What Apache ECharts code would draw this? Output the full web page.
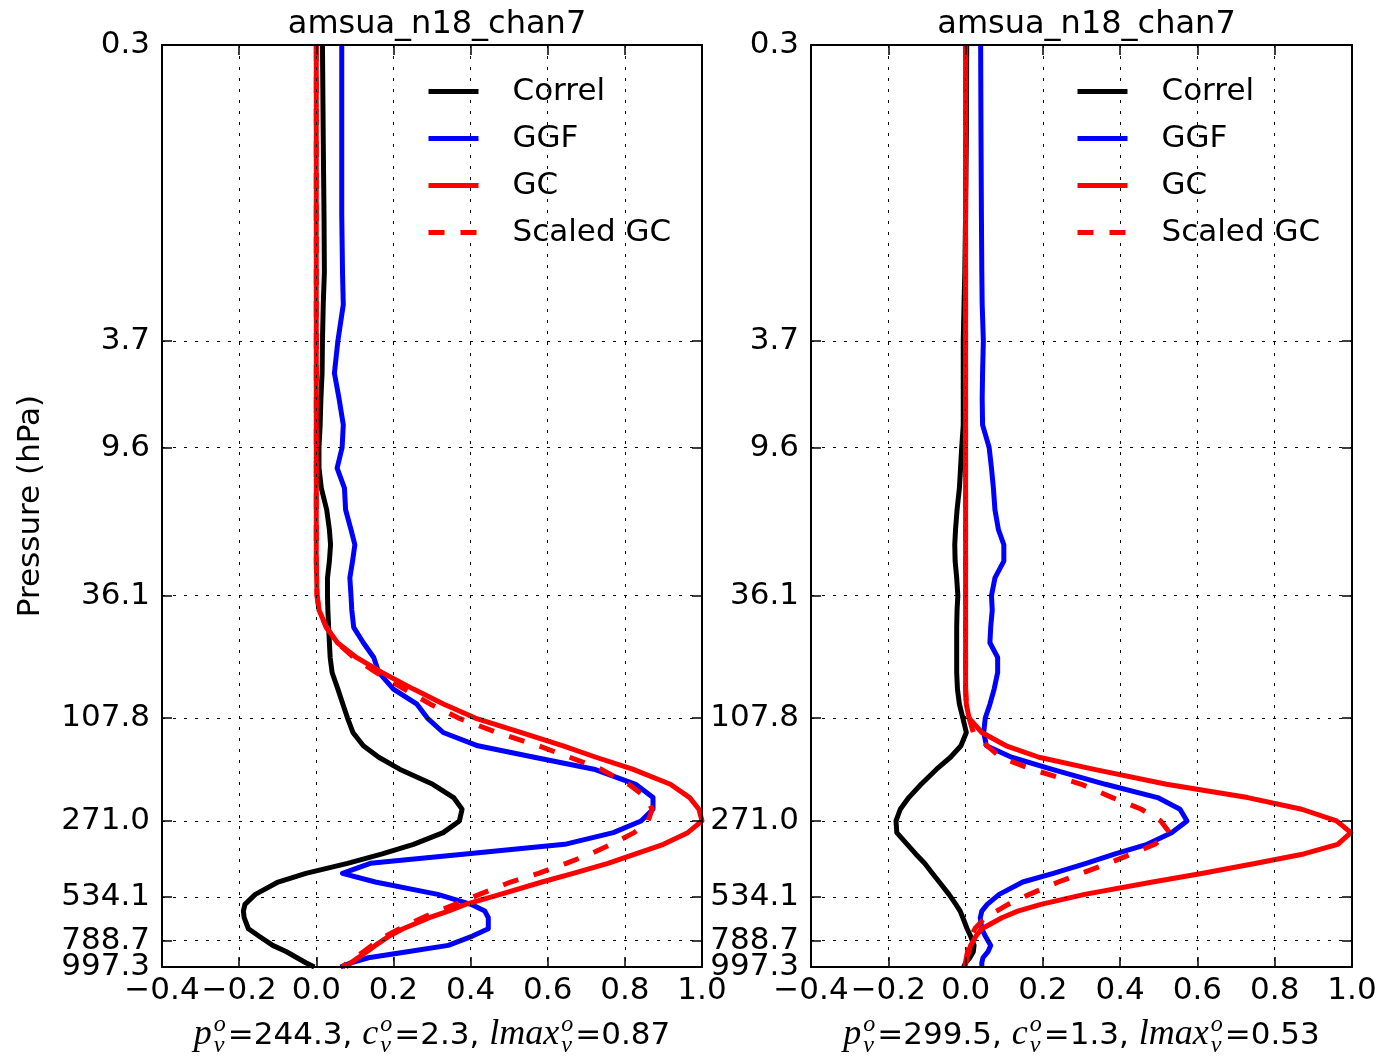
<!DOCTYPE html>
<html><head><meta charset="utf-8">
<script src="https://cdn.jsdelivr.net/npm/echarts@6/dist/echarts.min.js"></script>
<style>html,body{margin:0;padding:0;background:#fff}#c{width:1381px;height:1057px}</style>
</head><body><div id="c"></div>
<script>
// ---------- data ----------
const levels = [0.263, 0.6, 1.2, 2.0, 2.68, 3.7, 4.94, 6.2, 7.84, 9.6, 11.54, 13.8, 16.75, 20.0, 22.9, 26.5, 30.8,
  36.1, 41, 47.9, 55, 62.7, 71.7, 83.2, 95.2, 107.8, 122.6, 138.1, 153, 170.2, 194.8, 219.4, 243.5, 270.3, 300.1,
  333.1, 363, 394.8, 431.7, 466.6, 521.1, 569.8, 605, 642, 708.6, 756.4, 822.2, 870, 918.3, 960, 997.3];

const correl1 = [0.016, 0.018, 0.020, 0.021, 0.018, 0.016, 0.015, 0.012, 0.010, 0.007, 0.007, 0.013, 0.027, 0.034, 0.037, 0.034, 0.029,
  0.029, 0.030, 0.032, 0.034, 0.036, 0.041, 0.056, 0.069, 0.081, 0.095, 0.122, 0.162, 0.216, 0.302, 0.356, 0.378, 0.371, 0.329,
  0.252, 0.171, 0.081, -0.027, -0.099, -0.158, -0.185, -0.189, -0.187, -0.176, -0.149, -0.113, -0.077, -0.050, -0.027, -0.005];
const ggf1 = [0.066, 0.066, 0.066, 0.068, 0.070, 0.056, 0.047, 0.059, 0.070, 0.067, 0.054, 0.073, 0.076, 0.090, 0.100, 0.094, 0.087,
  0.090, 0.092, 0.097, 0.122, 0.149, 0.162, 0.200, 0.261, 0.288, 0.329, 0.419, 0.565, 0.720, 0.828, 0.873, 0.873, 0.842, 0.770,
  0.644, 0.387, 0.140, 0.068, 0.153, 0.315, 0.401, 0.437, 0.446, 0.446, 0.405, 0.342, 0.236, 0.135, 0.090, 0.063];
const gc1 = [0, 0, 0, 0, 0, 0, 0, 0, 0, 0, 0, 0, 0, 0, 0, 0, 0.001,
  0.002, 0.007, 0.026, 0.055, 0.104, 0.170, 0.252, 0.331, 0.412, 0.530, 0.640, 0.725, 0.820, 0.918, 0.968, 0.992, 1.000, 0.963,
  0.900, 0.828, 0.756, 0.666, 0.585, 0.477, 0.387, 0.342, 0.293, 0.225, 0.189, 0.153, 0.131, 0.108, 0.090, 0.077];
const scaledGc1 = [0, 0, 0, 0, 0, 0, 0, 0, 0, 0, 0, 0, 0, 0, 0, 0, 0.001,
  0.002, 0.007, 0.026, 0.054, 0.097, 0.155, 0.228, 0.296, 0.369, 0.468, 0.576, 0.657, 0.738, 0.810, 0.855, 0.871, 0.860, 0.824,
  0.765, 0.711, 0.648, 0.576, 0.504, 0.423, 0.360, 0.315, 0.275, 0.216, 0.180, 0.144, 0.122, 0.099, 0.081, 0.068];

const correl2 = [0.003, 0.002, 0.000, -0.002, -0.004, -0.006, -0.006, -0.006, -0.006, -0.010, -0.013, -0.016, -0.022, -0.026, -0.028, -0.027, -0.023,
  -0.020, -0.022, -0.023, -0.023, -0.023, -0.023, -0.021, -0.016, -0.007, 0.002, -0.012, -0.039, -0.075, -0.115, -0.147, -0.169, -0.180, -0.178,
  -0.151, -0.129, -0.106, -0.086, -0.068, -0.043, -0.025, -0.014, -0.007, 0.004, 0.013, 0.022, 0.020, 0.011, 0.000, -0.005];
const ggf2 = [0.039, 0.040, 0.041, 0.042, 0.043, 0.046, 0.044, 0.043, 0.044, 0.061, 0.067, 0.072, 0.076, 0.085, 0.099, 0.099, 0.076,
  0.067, 0.069, 0.065, 0.063, 0.083, 0.083, 0.074, 0.063, 0.051, 0.047, 0.054, 0.119, 0.222, 0.362, 0.497, 0.555, 0.573, 0.533,
  0.470, 0.387, 0.312, 0.227, 0.148, 0.087, 0.056, 0.042, 0.038, 0.042, 0.051, 0.065, 0.058, 0.045, 0.042, 0.042];
const gc2 = [0, 0, 0, 0, 0, 0, 0, 0, 0, 0, 0, 0, 0, 0, 0, 0, 0,
  0, 0, 0, 0, 0, 0, 0, 0.002, 0.009, 0.042, 0.105, 0.190, 0.330, 0.520, 0.730, 0.870, 0.960, 0.997,
  0.963, 0.875, 0.752, 0.614, 0.484, 0.308, 0.195, 0.135, 0.094, 0.042, 0.027, 0.013, 0.008, 0.004, 0.001, -0.002];
const scaledGc2 = [0, 0, 0, 0, 0, 0, 0, 0, 0, 0, 0, 0, 0, 0, 0, 0, 0,
  0, 0, 0, 0, 0, 0, 0, 0.002, 0.009, 0.020, 0.056, 0.090, 0.170, 0.300, 0.380, 0.455, 0.505, 0.528,
  0.490, 0.430, 0.370, 0.300, 0.240, 0.165, 0.110, 0.080, 0.050, 0.024, 0.015, 0.008, 0.005, 0.002, 0.000, -0.002];

const seriesNames = ['Correl', 'GGF', 'GC', 'Scaled GC'];
const panelTitles = ['amsua_n18_chan7', 'amsua_n18_chan7'];
const yTicks = [0.263, 3.7, 9.6, 36.1, 107.8, 271.0, 534.1, 788.7, 997.3];
const xMin = -0.4, xMax = 1.0, xStep = 0.2;
const captions = [
  {p: '244.3', c: '2.3', l: '0.87'},
  {p: '299.5', c: '1.3', l: '0.53'}
];

// ---------- styling / layout ----------
const panels = [
  {left: 162, width: 540, series: [correl1, ggf1, gc1, scaledGc1]},
  {left: 811, width: 541, series: [correl2, ggf2, gc2, scaledGc2]}
];
const TOP = 45, HEIGHT = 922;
const FONT = 'DejaVu Sans';
const FS = 31;
const colors = ['#000000', '#0000ff', '#ff0000', '#ff0000'];
const dashes = ['solid', 'solid', 'solid', [16, 16]];

const chart = echarts.init(document.getElementById('c'), null, {renderer: 'canvas'});

const grids = [], xAxes = [], yAxes = [], series = [], titles = [], legends = [];
const ylog = yTicks.map(v => Math.log10(v));
const yMinL = ylog[0], yMaxL = ylog[ylog.length - 1];
const yFmt = v => Math.pow(10, v).toFixed(1);
const xFmt = v => { const s = (Math.abs(v) < 1e-9 ? 0 : v).toFixed(1); return s.replace('-', '\u2212'); };
const tickStyle = {show: true, inside: true, length: 10, lineStyle: {color: '#000', width: 1.5}};
const lineAx = {show: true, onZero: false, lineStyle: {color: '#000', width: 2}};
const splitStyle = {show: true, lineStyle: {color: '#000', width: 1, type: [3, 8]}};
const yLabelBase = {show: true, formatter: yFmt, fontFamily: FONT, fontSize: FS, color: '#000', margin: 12,
  showMinLabel: true, showMaxLabel: true, hideOverlap: false};

panels.forEach((pn, i) => {
  grids.push({left: pn.left, top: TOP, width: pn.width, height: HEIGHT, containLabel: false, outerBoundsMode: 'none'});
  // bottom x
  xAxes.push({type: 'value', gridIndex: i, position: 'bottom', min: xMin, max: xMax, interval: xStep, z: 3,
    axisLine: lineAx, axisTick: tickStyle, splitLine: splitStyle,
    axisLabel: {show: true, formatter: xFmt, fontFamily: FONT, fontSize: FS, color: '#000', margin: 8,
      showMinLabel: true, showMaxLabel: true, hideOverlap: false}});
  // top x
  xAxes.push({type: 'value', gridIndex: i, position: 'top', min: xMin, max: xMax, interval: xStep, z: 3,
    axisLine: lineAx, axisTick: tickStyle, splitLine: {show: false}, axisLabel: {show: false}});
  // left y (log pressure): ticks, grid, labels except the bottom one
  yAxes.push({type: 'value', gridIndex: i, position: 'left', inverse: true, z: 3,
    min: yMinL, max: yMaxL,
    name: i === 0 ? 'Pressure (hPa)' : '', nameLocation: 'middle', nameRotate: 90, nameGap: 116,
    nameTextStyle: {fontFamily: FONT, fontSize: FS, color: '#000'},
    axisLine: lineAx,
    axisTick: Object.assign({}, tickStyle, {customValues: ylog}),
    splitLine: splitStyle,
    axisLabel: Object.assign({}, yLabelBase, {customValues: ylog.slice(0, -1)})});
  // right y
  yAxes.push({type: 'value', gridIndex: i, position: 'right', inverse: true, z: 3,
    min: yMinL, max: yMaxL,
    axisLine: lineAx, axisTick: Object.assign({}, tickStyle, {customValues: ylog}),
    splitLine: {show: false}, axisLabel: {show: false}});
  // extra left y carrying only the bottom label (it overlaps its neighbour, as in the original)
  yAxes.push({type: 'value', gridIndex: i, position: 'left', offset: 0, inverse: true, z: 4,
    min: yMinL, max: yMaxL,
    axisLine: {show: false}, axisTick: {show: false}, splitLine: {show: false},
    axisLabel: Object.assign({}, yLabelBase, {customValues: ylog.slice(-1)})});

  pn.series.forEach((vals, k) => {
    series.push({
      type: 'line', name: seriesNames[k], xAxisIndex: 2 * i, yAxisIndex: 3 * i,
      data: levels.map((p, j) => [vals[j], Math.log10(p)]),
      symbol: 'none', showSymbol: false, z: 2,
      lineStyle: {color: colors[k], width: 5, type: dashes[k], join: 'round', cap: 'butt'},
      itemStyle: {color: colors[k]},
      animation: false
    });
  });

  titles.push({text: panelTitles[i], left: pn.left + pn.width / 2, top: 4, textAlign: 'center',
    textStyle: {fontFamily: FONT, fontSize: 32, fontWeight: 'normal', color: '#000'}});

  legends.push({orient: 'vertical', left: pn.left + 259, top: 71, itemWidth: 50, itemHeight: 4, itemGap: 16,
    data: seriesNames, selectedMode: false,
    lineStyle: {width: 5},
    itemStyle: {color: 'rgba(0,0,0,0)', borderWidth: 0, borderColor: 'rgba(0,0,0,0)'},
    textStyle: {fontFamily: FONT, fontSize: FS, color: '#000', lineHeight: 31, padding: [0, 0, 0, 29]}});
});

// ---------- caption (math-style text) ----------
const mctx = document.createElement('canvas').getContext('2d');
const MATH = 'Liberation Serif';
function tw(text, size, family, style) {
  mctx.font = (style || 'normal') + ' ' + size + 'px "' + family + '"';
  return mctx.measureText(text).width;
}
const graphics = [];
captions.forEach((cap, i) => {
  const pn = panels[i];
  const cx = pn.left + pn.width / 2;
  const yMain = 1036, ySup = 1025, ySub = 1046;
  const pieces = [
    {t: 'p', m: true}, {s: true}, {t: '=' + cap.p + ', '},
    {t: 'c', m: true}, {s: true}, {t: '=' + cap.c + ', '},
    {t: 'lmax', m: true}, {s: true}, {t: '=' + cap.l}
  ];
  const MS = 36, SS = 24;
  pieces.forEach(pc => {
    if (pc.s) pc.w = Math.max(tw('o', SS, MATH, 'italic'), tw('v', SS, MATH, 'italic')) + 3;
    else if (pc.m) pc.w = tw(pc.t, MS, MATH, 'italic') + 1;
    else pc.w = tw(pc.t, FS, FONT);
  });
  const total = pieces.reduce((a, b) => a + b.w, 0);
  let x = cx - total / 2;
  pieces.forEach(pc => {
    if (pc.s) {
      graphics.push({type: 'text', x: x + 1, y: ySup, style: {text: 'o', font: 'italic ' + SS + 'px "' + MATH + '"', fill: '#000', verticalAlign: 'middle'}});
      graphics.push({type: 'text', x: x + 1, y: ySub, style: {text: 'v', font: 'italic ' + SS + 'px "' + MATH + '"', fill: '#000', verticalAlign: 'middle'}});
    } else if (pc.m) {
      graphics.push({type: 'text', x: x, y: yMain - 1, style: {text: pc.t, font: 'italic ' + MS + 'px "' + MATH + '"', fill: '#000', verticalAlign: 'middle'}});
    } else {
      graphics.push({type: 'text', x: x, y: yMain, style: {text: pc.t, font: FS + 'px "' + FONT + '"', fill: '#000', verticalAlign: 'middle'}});
    }
    x += pc.w;
  });
});

chart.setOption({
  animation: false,
  backgroundColor: '#ffffff',
  title: titles,
  legend: legends,
  grid: grids,
  xAxis: xAxes,
  yAxis: yAxes,
  series: series,
  graphic: graphics
});
</script>
</body></html>
